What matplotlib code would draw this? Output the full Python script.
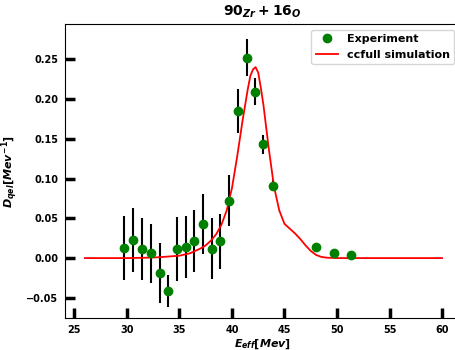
import matplotlib
matplotlib.use('Agg')
import matplotlib.pyplot as plt

# experimental points
e_exp = [29.7, 30.6, 31.4, 32.3, 33.1, 33.9, 34.8, 35.6, 36.4, 37.2, 38.1, 38.9, 39.7,
         40.6, 41.4, 42.2, 43.0, 43.9, 48.0, 49.7, 51.3]
d_exp = [0.013, 0.023, 0.011, 0.006, -0.019, -0.041, 0.011, 0.014, 0.021, 0.043, 0.012, 0.021, 0.072,
         0.185, 0.252, 0.209, 0.143, 0.091, 0.014, 0.007, 0.004]
d_err = [0.040, 0.040, 0.039, 0.037, 0.038, 0.020, 0.040, 0.039, 0.039, 0.038, 0.038, 0.035, 0.032,
         0.028, 0.023, 0.017, 0.012, 0.007, 0.002, 0.002, 0.002]

# ccfull simulation
e_sim = [26, 28, 30, 32, 33, 34, 35, 36, 36.5, 37, 37.5, 38, 38.5, 39, 39.5, 40, 40.5, 41,
         41.5, 41.75, 42, 42.25, 42.5, 42.75, 43, 43.5, 44, 44.5, 45, 45.5, 46, 46.5, 47,
         47.5, 48, 48.5, 49, 50, 52, 54, 56, 58, 60]
d_sim = [0.0, 0.0, 0.0, 0.0005, 0.001, 0.002, 0.003, 0.006, 0.009, 0.012, 0.016, 0.022, 0.030,
         0.042, 0.060, 0.088, 0.128, 0.172, 0.212, 0.229, 0.237, 0.240, 0.233, 0.214, 0.192,
         0.138, 0.090, 0.060, 0.043, 0.037, 0.031, 0.024, 0.016, 0.009, 0.004, 0.0015, 0.0005,
         0.0, 0.0, 0.0, 0.0, 0.0, 0.0]

plt.rcParams['mathtext.fontset'] = 'custom'
plt.rcParams['mathtext.rm'] = 'DejaVu Sans:bold'
plt.rcParams['mathtext.it'] = 'DejaVu Sans:italic:bold'
plt.rcParams['mathtext.bf'] = 'DejaVu Sans:bold'

fig = plt.figure(figsize=(4.56, 3.5), dpi=100)
# right edge of the axes runs just past the picture, as in the reference
ax = fig.add_axes([0.1425, 0.091, 0.866, 0.84])

ax.errorbar(e_exp, d_exp, yerr=d_err, fmt='none', ecolor='black', elinewidth=1.5, zorder=2)
ax.plot(e_exp, d_exp, 'o', color='green', markersize=6, label='Experiment', zorder=4)
ax.plot(e_sim, d_sim, color='red', lw=1.3, label='ccfull simulation', zorder=3)

ax.set_xlim(24.1, 61.7)
ax.set_ylim(-0.0755, 0.294)
ax.set_xticks([25, 30, 35, 40, 45, 50, 55, 60])
ax.set_yticks([-0.05, 0.0, 0.05, 0.10, 0.15, 0.20, 0.25])
ax.tick_params(direction='in', length=7, width=2.5, labelsize=7, pad=5)
for lab in ax.get_xticklabels() + ax.get_yticklabels():
    lab.set_fontweight('bold')

ax.set_title(r'$90_{Zr}+16_{O}$', fontsize=10, fontweight='bold')
ax.set_xlabel(r'$E_{eff}[Mev]$', fontsize=8, fontweight='bold', labelpad=2)
ax.set_ylabel(r'$D_{qel}[Mev^{-1}]$', fontsize=8, fontweight='bold')

leg = ax.legend(loc='upper right', prop={'weight': 'bold', 'size': 8})

fig.savefig('out.png', dpi=100)
